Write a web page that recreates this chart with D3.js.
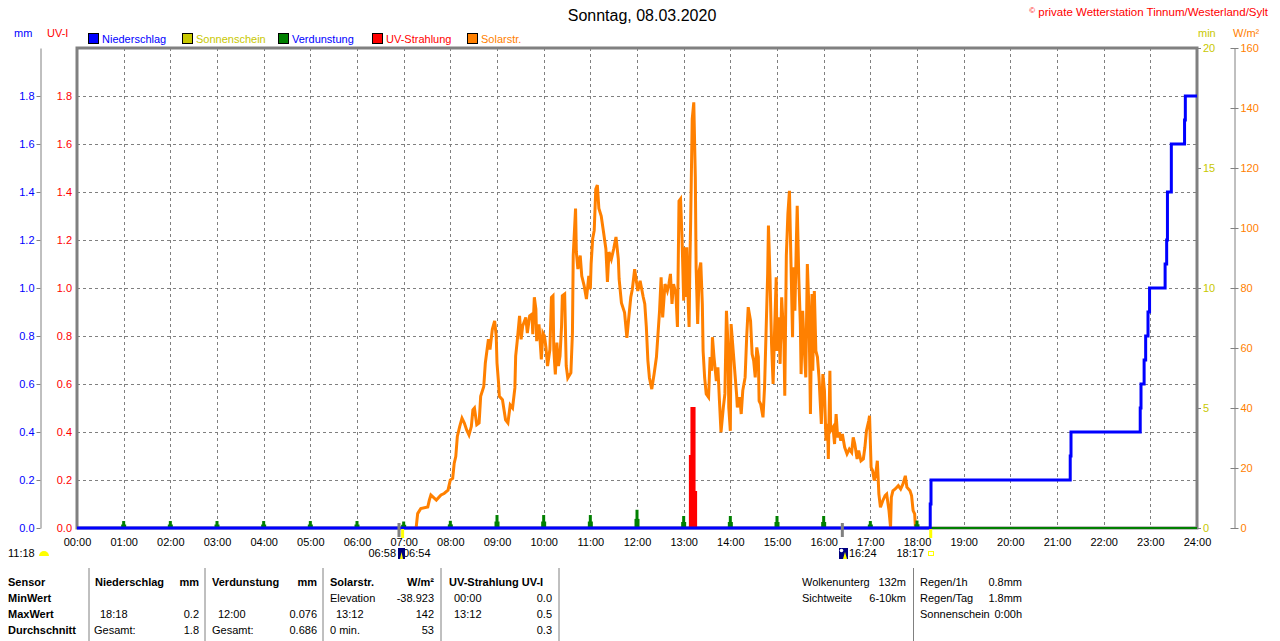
<!DOCTYPE html>
<html><head><meta charset="utf-8">
<script src="https://cdn.jsdelivr.net/npm/d3@7/dist/d3.min.js"></script>
<style>
body{margin:0;background:#fff;}
svg{display:block;font-family:"Liberation Sans",Arial,sans-serif;}
</style></head><body>
<svg id="c" width="1280" height="641"></svg>
<script>
// ---------- DATA ----------
const title = "Sonntag, 08.03.2020";
const copyright = "private Wetterstation Tinnum/Westerland/Sylt";
const hourLabels = ["00:00","01:00","02:00","03:00","04:00","05:00","06:00","07:00","08:00","09:00","10:00","11:00","12:00","13:00","14:00","15:00","16:00","17:00","18:00","19:00","20:00","21:00","22:00","23:00","24:00"];
const leftTicks = [0,0.2,0.4,0.6,0.8,1.0,1.2,1.4,1.6,1.8];
const minTicks = [0,5,10,15,20];
const wTicks = [0,20,40,60,80,100,120,140,160];
const legendNames = ["Niederschlag","Sonnenschein","Verdunstung","UV-Strahlung","Solarstr."];
const legendFill = ["#0000ff","#c8c800","#008000","#ff0000","#ff8000"];
const legendText = ["#0000ff","#c8c800","#0000ff","#ff0000","#ff8000"];

const rainTimes = ["00:00","18:17","18:18","21:17","21:18","22:47","22:48","22:52","22:54","22:57","22:59","23:19","23:21","23:22","23:27","23:44","23:45","24:00"];
const rainValues = [0,0.1,0.2,0.3,0.4,0.5,0.6,0.7,0.8,0.9,1.0,1.1,1.2,1.4,1.6,1.7,1.8,1.8];

const evapHours  = [1,2,3,4,5,6,7,8,9,10,11,12,13,14,15,16,17,18];
const evapValues = [0.029,0.029,0.029,0.029,0.029,0.029,0.027,0.03,0.054,0.054,0.054,0.076,0.05,0.05,0.05,0.05,0.029,0.031];

const uvTimes  = ["13:07","13:08","13:09","13:10","13:11","13:12","13:13","13:14","13:15","13:16"];
const uvValues = [0,0.3,0.3,0.5,0.5,0.5,0.5,0.15,0.15,0];

const solarTimes = ["07:16","07:18","07:22","07:31","07:33","07:35","07:42","07:48","07:52","07:57",
"08:00","08:03","08:05","08:07","08:09","08:12","08:15","08:18","08:21","08:24","08:27","08:29","08:31","08:34","08:37","08:39","08:43","08:45","08:47","08:49","08:51","08:54","08:57","08:59",
"09:00","09:02","09:03","09:07","09:09","09:11","09:14","09:17","09:20","09:23","09:24","09:26","09:29","09:31","09:33","09:37","09:39","09:42","09:45","09:46","09:48","09:50","09:51","09:54","09:57","09:59",
"10:01","10:03","10:05","10:08","10:10","10:12","10:13","10:15","10:17","10:19","10:21","10:23","10:24","10:27","10:29","10:31","10:35","10:37","10:38","10:41","10:42","10:44","10:47","10:49","10:52","10:55","10:58",
"11:00","11:01","11:03","11:05","11:07","11:09","11:11","11:14","11:17","11:20","11:22","11:24","11:27","11:30","11:33","11:36","11:37","11:40","11:44","11:47","11:49","11:52","11:54","11:57",
"12:01","12:04","12:08","12:10","12:12","12:14","12:16","12:19","12:22","12:25","12:27","12:29","12:31","12:33","12:36","12:39","12:41","12:43","12:45","12:47","12:50","12:52","12:54","12:56","12:58",
"13:00","13:01","13:03","13:04","13:06","13:07","13:08","13:09","13:11","13:13","13:15","13:16","13:18","13:20","13:22","13:24","13:25","13:27","13:29","13:32","13:34","13:36","13:37","13:39","13:42","13:44","13:46","13:48","13:51","13:53","13:55","13:57","13:58",
"14:00","14:01","14:03","14:06","14:08","14:09","14:12","14:14","14:16","14:19","14:21","14:23","14:26","14:28","14:30","14:32","14:34","14:36","14:37","14:39","14:42","14:44","14:46","14:48","14:49","14:51","14:53","14:55","14:57","14:59",
"15:00","15:02","15:04","15:06","15:09","15:10","15:12","15:14","15:16","15:18","15:20","15:21","15:23","15:25","15:26","15:28","15:30","15:31","15:33","15:35","15:37","15:39","15:41","15:43","15:45","15:46","15:48","15:50","15:52","15:54","15:57","15:59",
"16:01","16:03","16:05","16:06","16:08","16:09","16:12","16:14","16:16","16:18","16:20","16:22","16:24","16:27","16:30","16:33","16:36","16:38","16:40","16:43","16:45","16:48","16:51","16:53","16:55","16:58","16:59",
"17:01","17:03","17:05","17:07","17:09","17:11","17:13","17:16","17:19","17:21","17:24","17:26","17:27","17:29","17:32","17:36","17:39","17:42","17:45","17:47","17:51","17:53","17:55","17:57","17:58"];
const solarValues = [0,4.8,6.5,7.0,9.3,11,9.3,11,11.5,12.6,
16,16.5,21.6,23.8,30.5,33.8,36.6,35,32.7,31,33.8,39.4,40,34.4,35,43.9,47.2,55,59,62.9,59.5,66.2,69,64,
55,48.4,43.9,42.8,39.4,36,35,41,40,46.7,57.3,62.3,70.7,62.9,67.3,70.2,65,70.7,71.3,64.6,76.9,73,62.3,67.9,56.2,65,
64,60,54,59.5,76.9,77.4,59.5,51.2,61.8,54,57.3,67.3,77.4,78,54,50,51.7,65,90.8,106.5,92,86.3,90.8,84,80.8,76.3,84,
79.6,88,96.4,99.2,113,114.3,106.5,104,98.6,93,82,92,89.6,93,97,89.6,83,75,71.8,63.4,69,76.9,79.6,86.3,
79,82.4,77,74.7,67,55.8,50,46.3,51.3,57,64.7,72.4,83.6,70.2,81.3,79,81.3,84.7,74.7,81.3,78,67,109,109.7,95.8,
75.8,93.6,77,93.6,73.6,67,88,102.4,136.3,141.9,116.9,86.9,68,85.8,88.5,74.7,59,50,44.7,43.6,57,52.4,63.6,57,49,53.6,42.4,31.9,40.2,44.7,72.4,61.3,40.2,
32.4,68,61.3,51.3,44.7,40.2,43.6,38,45.8,50.2,63.6,73.6,69,58,55.8,50.2,60.2,57,42.4,41.3,36.9,46.9,65.8,84.7,100.8,83.6,61.3,48,66.9,83.6,
59,70.2,54.7,76.9,61.3,44.1,90.8,104.7,112.4,88,63.6,86.9,72.4,96.9,107.4,83.6,68,51.3,72.4,60.2,50.2,88,73.6,38,78,52.4,79,59,57,50.2,34.7,51.3,
45.8,29.1,34.7,23,52.4,32.4,33.6,28,38,30.2,31.9,29.1,31.3,26.9,24.7,26.3,25.2,30.2,28,23,25.8,22.4,23,26.9,32.4,35.8,37.4,
20.2,19.1,15.8,18,22.4,11.3,6.9,9.1,10.8,11.3,5.8,0.2,10.2,12.4,13,14.1,13,14.7,17.4,13.6,12.4,10.8,5.8,4.7,0.2];

const sunLabels = {left:"11:18", rise1:"06:58", rise2:"06:54", set1:"16:24", set2:"18:17"};

// ---------- LAYOUT ----------
const L=77, R=1197, T=48, B=528;
const GRAY="#808080";
const FS=11;
const tm = s => { const [h,m]=s.split(":").map(Number); return h*60+m; };
const svg = d3.select("#c");
const x = d3.scaleLinear().domain([0,1440]).range([L,R]);
const yL = d3.scaleLinear().domain([0,2]).range([B,T]);
const yMin = d3.scaleLinear().domain([0,20]).range([B,T]);
const yW = d3.scaleLinear().domain([0,160]).range([B,T]);

// title
svg.append("text").attr("x",642).attr("y",21).attr("text-anchor","middle").attr("font-size",16).attr("fill","#000").text(title);
const cp = svg.append("text").attr("x",1268).attr("y",16).attr("text-anchor","end").attr("font-size",11.5).attr("fill","#ff0000");
cp.append("tspan").attr("font-size",8).attr("dy",-3).text("©");
cp.append("tspan").attr("dy",3).text(" "+copyright);

// axis titles
svg.append("text").attr("x",14).attr("y",37).attr("font-size",FS).attr("fill","#0000ff").text("mm");
svg.append("text").attr("x",47).attr("y",37).attr("font-size",FS).attr("fill","#ff0000").text("UV-I");
svg.append("text").attr("x",1198).attr("y",37).attr("font-size",FS).attr("fill","#c8c800").text("min");
svg.append("text").attr("x",1233).attr("y",37).attr("font-size",FS).attr("fill","#ff8000").text("W/m²");

// legend
const legX=[88,182,278,372,467];
legendNames.forEach((n,i)=>{
  svg.append("rect").attr("x",legX[i]+0.5).attr("y",33.5).attr("width",10).attr("height",10).attr("fill",legendFill[i]).attr("stroke","#000");
  svg.append("text").attr("x",legX[i]+14).attr("y",42.5).attr("font-size",FS).attr("fill",legendText[i]).text(n);
});

// grid
const grid = svg.append("g").attr("stroke",GRAY).attr("stroke-dasharray","3,3").attr("stroke-width",1);
leftTicks.filter(d=>d>0).forEach(d=>grid.append("line").attr("x1",L).attr("x2",R).attr("y1",Math.round(yL(d))+0.5).attr("y2",Math.round(yL(d))+0.5));
d3.range(60,1440,60).forEach(d=>grid.append("line").attr("x1",Math.round(x(d))+0.5).attr("x2",Math.round(x(d))+0.5).attr("y1",T).attr("y2",B));

// border
svg.append("rect").attr("x",L).attr("y",T).attr("width",R-L).attr("height",B-T).attr("fill","none").attr("stroke",GRAY).attr("stroke-width",3);

// axes
function styleAxis(g,color){
  g.selectAll("text").attr("fill",color).attr("font-size",FS).attr("font-family","Liberation Sans, Arial, sans-serif");
  g.selectAll("line").attr("stroke",GRAY);
  g.select(".domain").attr("stroke",GRAY);
}
const fmt1 = d3.format(".1f");
const gMM = svg.append("g").attr("transform","translate(40.5,0)")
  .call(d3.axisLeft(yL).tickValues(leftTicks).tickFormat(fmt1).tickSizeInner(4).tickSizeOuter(0).tickPadding(2));
styleAxis(gMM,"#0000ff");
const gUV = svg.append("g").attr("transform",`translate(${L},0)`)
  .call(d3.axisLeft(yL).tickValues(leftTicks).tickFormat(fmt1).tickSize(0).tickPadding(5));
gUV.select(".domain").remove(); styleAxis(gUV,"#ff0000");
const gMin = svg.append("g").attr("transform",`translate(${R},0)`)
  .call(d3.axisRight(yMin).tickValues(minTicks).tickSizeInner(4).tickSizeOuter(0).tickPadding(2));
gMin.select(".domain").remove(); styleAxis(gMin,"#c8c800");
const gW = svg.append("g").attr("transform","translate(1234.5,0)")
  .call(d3.axisRight(yW).tickValues(wTicks).tickSizeInner(4).tickSizeOuter(0).tickPadding(2));
gW.selectAll(".tick line").attr("x1",-4);
styleAxis(gW,"#ff8000");
const gX = svg.append("g").attr("transform",`translate(0,${B})`)
  .call(d3.axisBottom(x).tickValues(d3.range(0,1441,60)).tickFormat(d=>hourLabels[d/60]).tickSize(0).tickPadding(10));
gX.select(".domain").remove(); styleAxis(gX,"#000");

// solar
const solar = solarTimes.map((t,i)=>[tm(t),solarValues[i]]);
svg.append("path").datum(solar).attr("fill","none").attr("stroke","#ff8000").attr("stroke-width",3).attr("stroke-linejoin","miter")
  .attr("d",d3.line().x(d=>x(d[0])).y(d=>yW(d[1])));

// evaporation
svg.append("line").attr("x1",L).attr("x2",R).attr("y1",B).attr("y2",B).attr("stroke","#008000").attr("stroke-width",2);
evapHours.forEach((h,i)=>{
  const xc=x(h*60), yt=yL(evapValues[i]);
  svg.append("rect").attr("x",xc-2.5).attr("y",(yt+B)/2).attr("width",5).attr("height",B-(yt+B)/2).attr("fill","#008000");
  svg.append("rect").attr("x",xc-1.5).attr("y",yt).attr("width",3).attr("height",B-yt).attr("fill","#008000");
});

// UV
const uv = uvTimes.map((t,i)=>[tm(t),uvValues[i]]);
svg.append("path").datum(uv).attr("fill","#ff0000").attr("stroke","#ff0000").attr("stroke-width",2)
  .attr("d",d3.area().curve(d3.curveStepAfter).x(d=>x(d[0])).y0(B).y1(d=>yL(d[1])));

// rain
const rain = rainTimes.map((t,i)=>[tm(t),rainValues[i]]);
const rainEnd = rain.findIndex(d=>d[1]>0);
svg.append("path").datum(rain.slice(0,rainEnd)).attr("fill","none").attr("stroke","#0000ff").attr("stroke-width",1.5)
  .attr("d",d3.line().curve(d3.curveStepAfter).x(d=>x(d[0])).y(d=>yL(d[1])));
svg.append("path").datum(rain.slice(rainEnd-1)).attr("fill","none").attr("stroke","#0000ff").attr("stroke-width",3)
  .attr("d",d3.line().curve(d3.curveStepAfter).x(d=>x(d[0])).y(d=>yL(d[1])));

// sun / moon markers below axis
const mk = svg.append("g");
[sunLabels.rise2, sunLabels.set1].forEach(t=>mk.append("rect").attr("x",x(tm(t))-1.5).attr("y",B-5).attr("width",3).attr("height",14).attr("fill",GRAY));
[sunLabels.rise1, sunLabels.set2].forEach(t=>mk.append("rect").attr("x",x(tm(t))-1).attr("y",B+1).attr("width",3).attr("height",9).attr("fill","#ffff00"));
mk.append("text").attr("x",8).attr("y",557).attr("font-size",FS).text(sunLabels.left);
mk.append("path").attr("d","M39,556 A5,5 0 0 1 49,556 Z").attr("fill","#ffff00");
mk.append("text").attr("x",396).attr("y",557).attr("text-anchor","end").attr("font-size",FS).text(sunLabels.rise1);
mk.append("text").attr("x",403).attr("y",557).attr("font-size",FS).text(sunLabels.rise2);
mk.append("rect").attr("x",398).attr("y",548).attr("width",7).attr("height",11).attr("fill","#000080");
mk.append("path").attr("d","M400,559 L401.5,552 L403,559 Z").attr("fill","#ffff00");
mk.append("rect").attr("x",839).attr("y",548).attr("width",9).attr("height",11).attr("fill","#000080");
mk.append("circle").attr("cx",841.5).attr("cy",550.5).attr("r",1.8).attr("fill","#fff");
mk.append("path").attr("d","M843,559 L845,552 L847,559 Z").attr("fill","#ffff00");
mk.append("text").attr("x",849).attr("y",557).attr("font-size",FS).text(sunLabels.set1);
mk.append("text").attr("x",924).attr("y",557).attr("text-anchor","end").attr("font-size",FS).text(sunLabels.set2);
mk.append("rect").attr("x",928.5).attr("y",551.5).attr("width",5).attr("height",4).attr("fill","none").attr("stroke","#ffff00");

// ---------- TABLE ----------
const tb = svg.append("g").attr("font-size",FS).attr("fill","#000");
[89,205,323,441,559,913.5].forEach(xx=>tb.append("line").attr("x1",xx).attr("x2",xx).attr("y1",568).attr("y2",641).attr("stroke",GRAY));
const rowY=[586,602,618,634];
const cells = [
 [8,0,"Sensor","start",1],[8,1,"MinWert","start",1],[8,2,"MaxWert","start",1],[8,3,"Durchschnitt","start",1],
 [95,0,"Niederschlag","start",1],[199,0,"mm","end",1],
 [212,0,"Verdunstung","start",1],[317,0,"mm","end",1],
 [330,0,"Solarstr.","start",1],[434,0,"W/m²","end",1],
 [449,0,"UV-Strahlung UV-I","start",1],
 [330,1,"Elevation","start",0],[434,1,"-38.923","end",0],[454,1,"00:00","start",0],[552,1,"0.0","end",0],
 [100,2,"18:18","start",0],[199,2,"0.2","end",0],[218,2,"12:00","start",0],[317,2,"0.076","end",0],
 [336,2,"13:12","start",0],[434,2,"142","end",0],[454,2,"13:12","start",0],[552,2,"0.5","end",0],
 [94,3,"Gesamt:","start",0],[199,3,"1.8","end",0],[212,3,"Gesamt:","start",0],[317,3,"0.686","end",0],
 [330,3,"0 min.","start",0],[434,3,"53","end",0],[552,3,"0.3","end",0],
 [802,0,"Wolkenunterg","start",0],[906,0,"132m","end",0],[802,1,"Sichtweite","start",0],[906,1,"6-10km","end",0],
 [920,0,"Regen/1h","start",0],[1022,0,"0.8mm","end",0],[920,1,"Regen/Tag","start",0],[1022,1,"1.8mm","end",0],
 [920,2,"Sonnenschein","start",0],[1022,2,"0:00h","end",0]
];
cells.forEach(c=>tb.append("text").attr("x",c[0]).attr("y",rowY[c[1]]).attr("text-anchor",c[3]).attr("font-weight",c[4]?"bold":"normal").text(c[2]));
</script>
</body></html>
